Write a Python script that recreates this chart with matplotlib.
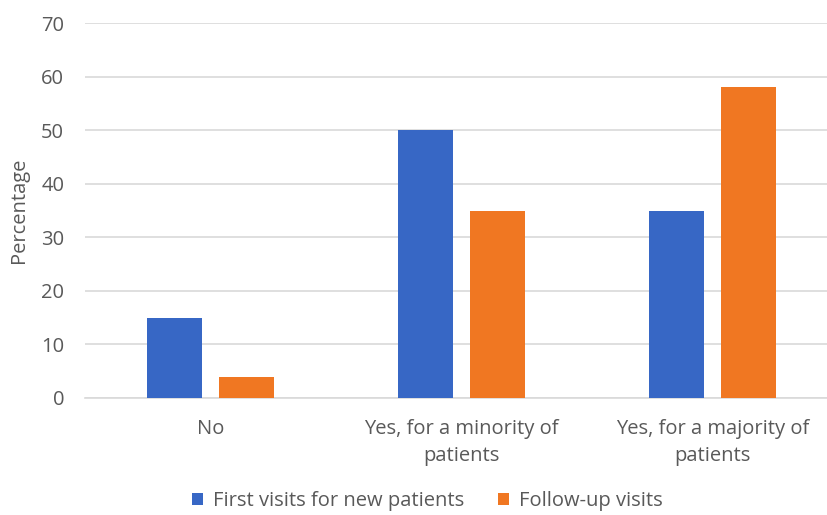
import numpy as np
import matplotlib.pyplot as plt

categories = ["No", "Yes, for a minority of\npatients", "Yes, for a majority of\npatients"]
first_visits = [15, 50, 35]
follow_up = [4, 35, 58]
series_names = ["First visits for new patients", "Follow-up visits"]
yticks = [0, 10, 20, 30, 40, 50, 60, 70]

blue = '#3767C5'
orange = '#F07722'
text_col = '#595959'
grid_col = '#D9D9D9'

plt.rcParams['font.family'] = ['Open Sans', 'DejaVu Sans']
fs = 14.5

fig = plt.figure(figsize=(8.28, 5.15), dpi=100)
# plot area runs a little past the right edge, like the original
ax = fig.add_axes([0.1027, 0.2272, 0.9094, 0.7281])

x = np.arange(len(categories))
w = 0.219
off = 0.1434
ax.bar(x - off, first_visits, w, color=blue, label=series_names[0], zorder=3)
ax.bar(x + off, follow_up, w, color=orange, label=series_names[1], zorder=3)

ax.set_xlim(-0.5, 2.5)
ax.set_ylim(0, 70)
ax.set_yticks(yticks)
ax.yaxis.grid(True, color=grid_col, linewidth=1.2, zorder=0)
for s in ['top', 'right', 'left']:
    ax.spines[s].set_visible(False)
ax.spines['bottom'].set_color(grid_col)
ax.spines['bottom'].set_linewidth(1.2)
ax.tick_params(axis='both', length=0, colors=text_col, labelsize=fs)
ax.tick_params(axis='y', pad=15)
ax.tick_params(axis='x', pad=15)
ax.set_xticks(x)
ax.set_xticklabels(categories, linespacing=1.45)
ax.set_ylabel("Percentage", color=text_col, fontsize=fs, labelpad=9)

fig.legend(loc='lower center', bbox_to_anchor=(0.516, -0.028), ncol=2, frameon=False,
           fontsize=fs, labelcolor=text_col, handlelength=0.55, handleheight=0.55,
           columnspacing=1.65, handletextpad=0.5)

fig.savefig('out.png', dpi=100)
